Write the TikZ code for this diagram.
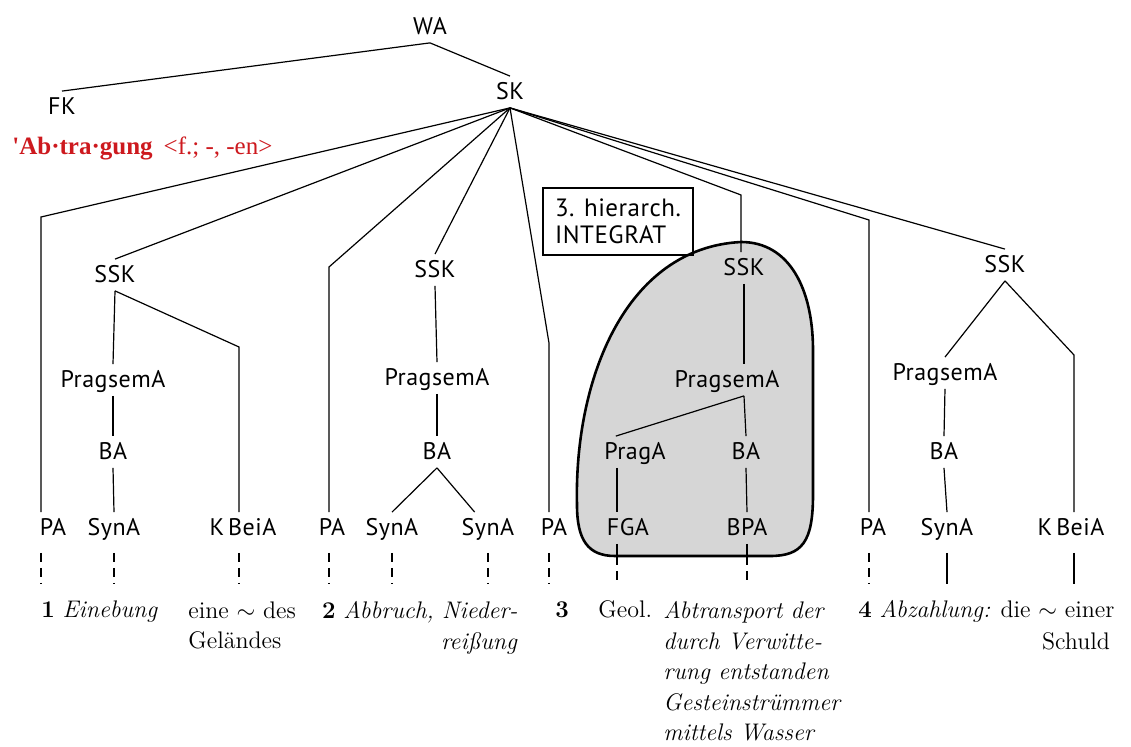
\documentclass[tikz,border=0pt]{standalone}
\usepackage{fontspec}
\usepackage{xcolor}
\usepackage{tikz}
\usetikzlibrary{calc}
\newfontfamily\labelfont[LetterSpace=2]{PT Sans}
\newfontfamily\dictfont{Liberation Serif}
\definecolor{cLemma}{RGB}{205,25,30}
\definecolor{cBlob}{RGB}{214,214,214}
\tikzset{
	lbl/.style      ={font=\labelfont\fontsize{12}{14}\selectfont, text height=8.5pt, text depth=1pt, inner sep=3pt},
	branch/.style   ={line width=0.6pt},
	leaflink/.style ={line width=0.6pt, dash pattern=on 4.5pt off 3pt, shorten <=4.5pt},
	leafsolid/.style={line width=0.6pt, shorten <=4.5pt},
	% glosses of the dictionary entry
	gloss/.style    ={font=\fontsize{12}{15.3}\selectfont, inner sep=0pt},
	% third hierarchical integrate
	integrat/.style ={draw=black, line width=1.3pt, fill=cBlob},
	tagbox/.style   ={rectangle, draw=black, line width=0.6pt, minimum width=75pt, minimum height=33.5pt, align=left, font=\labelfont\fontsize{12.5}{13.5}\selectfont, inner sep=2pt},
}

\begin{document}
\begin{tikzpicture}[x=0.5pt, y=-0.5pt]
\useasboundingbox (0,0) rectangle (1131,747);
\draw[integrat] (741,242) .. controls (790,242) and (813,290) .. (813,350) -- (813,495)
  .. controls (813,542) and (802,556) .. (770,556) -- (615,556)
  .. controls (588,556) and (577,540) .. (577,505) .. controls (574,380) and (625,248) .. (741,242) -- cycle;
\node[tagbox] (tag) at (618,221.5) {3. hierarch.\\INTEGRAT};
% top of the tree
\node[lbl] (WA) at (430,27) {WA};
\node[lbl] (FK) at (62,107) {FK};
\node[lbl] (SK) at (510,92) {SK};
\node[anchor=base west, inner sep=0pt, text=cLemma, font=\dictfont\fontsize{12.5}{14}\selectfont] (lemma) at (12,155) {\textbf{\textquotesingle Ab·tra·gung}\hspace{5.5pt}<f.; -, -en>};
% sememe 1
\node[lbl] (PAa) at (53,528) {PA};
\node[lbl] (SSKa) at (115,275) {SSK};
\node[lbl] (PsAa) at (113,380) {PragsemA};
\node[lbl] (BAa) at (113,452) {BA};
\node[lbl] (SynAa) at (114,528) {SynA};
\node[lbl] (KBAa) at (243,528) {K\,BeiA};
% sememe 2
\node[lbl] (PAb) at (332,528) {PA};
\node[lbl] (SSKb) at (435,270) {SSK};
\node[lbl] (PsAb) at (437,378) {PragsemA};
\node[lbl] (BAb) at (437,452) {BA};
\node[lbl] (SynAba) at (392,528) {SynA};
\node[lbl] (SynAbb) at (488,528) {SynA};
% sememe 3
\node[lbl] (PAc) at (554,528) {PA};
\node[lbl] (SSKc) at (744,268) {SSK};
\node[lbl] (PsAc) at (727,380) {PragsemA};
\node[lbl] (PragA) at (635,452) {PragA};
\node[lbl] (BAc) at (746,452) {BA};
\node[lbl] (FGA) at (628,528) {FGA};
\node[lbl] (BPA) at (747,528) {BPA};
% sememe 4
\node[lbl] (PAd) at (873,528) {PA};
\node[lbl] (SSKd) at (1005,265) {SSK};
\node[lbl] (PsAd) at (945,373) {PragsemA};
\node[lbl] (BAd) at (944,452) {BA};
\node[lbl] (SynAd) at (947,528) {SynA};
\node[lbl] (KBAd) at (1071,528) {K\,BeiA};
% bends and ends
\coordinate (bendA) at (41,217); \coordinate (bendB) at (329,267); \coordinate (bendC) at (549,343);
\coordinate (bendD) at (741,195); \coordinate (bendE) at (869,220);
\coordinate (kinkA) at (239,347); \coordinate (kinkD) at (1074,355);
\coordinate (lineF) at (617,556); \coordinate (lineB) at (747,556);
\coordinate (dashend) at (0,584);
\coordinate (apexC) at (SSKc |- PsAc.south);
\draw[branch] (WA.south) -- (FK.north); \draw[branch] (WA.south) -- (SK.north);
\draw[branch] (SK.south) -- (bendA) -- (bendA |- PAa.north);
\draw[branch] (SK.south) -- (SSKa.north);
\draw[branch] (SK.south) -- (bendB) -- (bendB |- PAb.north);
\draw[branch] (SK.south) -- (SSKb.north);
\draw[branch] (SK.south) -- (bendC) -- (bendC |- PAc.north);
\draw[branch] (SK.south) -- (bendD) -- (bendD |- SSKc.north);
\draw[branch] (SK.south) -- (bendE) -- (bendE |- PAd.north);
\draw[branch] (SK.south) -- (SSKd.north);
\draw[branch] (SSKa.south) -- (PsAa.north); \draw[branch] (PsAa.south) -- (BAa.north); \draw[branch] (BAa.south) -- (SynAa.north);
\draw[branch] (SSKa.south) -- (kinkA) -- (kinkA |- KBAa.north);
\draw[branch] (SSKb.south) -- (PsAb.north); \draw[branch] (PsAb.south) -- (BAb.north);
\draw[branch] (BAb.south) -- (SynAba.north); \draw[branch] (BAb.south) -- (SynAbb.130);
\draw[branch] (SSKc.south) -- (SSKc |- PsAc.north); \draw[branch] (apexC) -- (BAc.north);
\draw[branch] (apexC) -- ([xshift=9pt]PragA.north west);
\draw[branch] (PragA.south -| lineF) -- (FGA.north -| lineF); \draw[branch] (FGA.south -| lineF) -- (lineF);
\draw[branch] (BAc.south) -- (BPA.north); \draw[branch] (BPA.south) -- (lineB);
\draw[branch] (SSKd.south) -- (PsAd.north); \draw[branch] (PsAd.south) -- (BAd.north); \draw[branch] (BAd.south) -- (SynAd.north);
\draw[branch] (SSKd.south) -- (kinkD) -- (kinkD |- KBAd.north);
% leaves down to the glosses
\foreach \r/\l in {bendA/PAa, SynAa/SynAa, kinkA/KBAa, bendB/PAb, SynAba/SynAba, SynAbb/SynAbb, bendC/PAc, bendE/PAd}
  \draw[leaflink] (\r |- \l.south) -- (\r |- dashend);
\foreach \r/\l in {SynAd/SynAd, kinkD/KBAd}
  \draw[leafsolid] (\r |- \l.south) -- (\r |- dashend);
\draw[leaflink, shorten <=0pt] (lineF) -- (lineF |- dashend); \draw[leaflink, shorten <=0pt] (lineB) -- (lineB |- dashend);
% glosses
\node[gloss, anchor=base west] (g1) at (41,618) {\textbf{1} \textit{Einebung}};
\node[gloss, anchor=north west, align=left] (g2) at (188,601) {eine $\sim$ des\\Geländes};
\node[gloss, anchor=north east, align=right] (g3) at (518,601) {\textbf{2} \textit{Abbruch, Nieder-}\\\textit{reißung}};
\node[gloss, anchor=base west] (g4) at (555,618) {\textbf{3}};
\node[gloss, anchor=base west] (g5) at (598,618) {Geol.};
\node[gloss, anchor=north west, align=left, font=\fontsize{12}{15.3}\selectfont\itshape] (g6) at (663,601) {Abtransport der\\durch Verwitte-\\rung entstanden\\Gesteinstrümmer\\mittels Wasser};
\node[gloss, anchor=base west] (g7) at (858,618) {\textbf{4} \textit{Abzahlung:} die $\sim$ einer};
\node[gloss, anchor=base] (g8) at (1076,650) {Schuld};
\end{tikzpicture}
\end{document}
